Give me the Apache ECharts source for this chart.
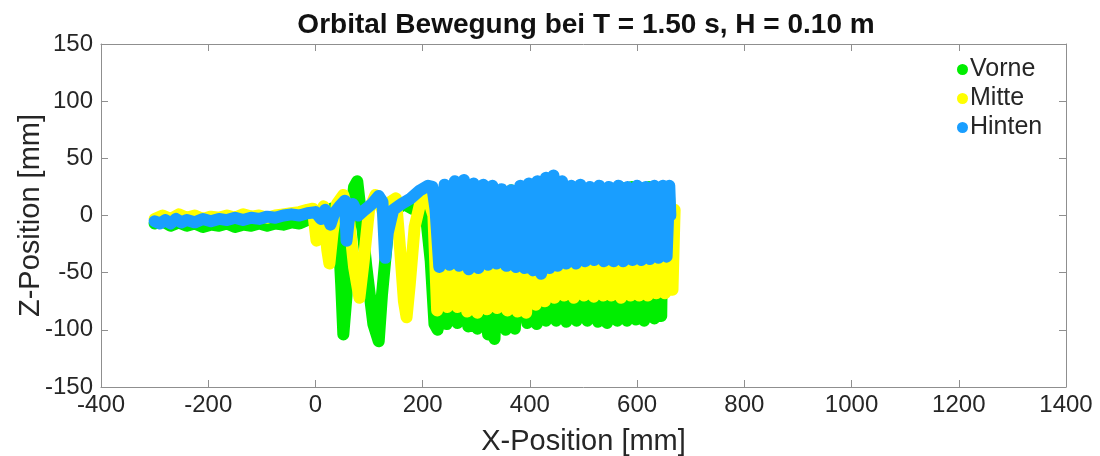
<!DOCTYPE html>
<html>
<head>
<meta charset="utf-8">
<script src="https://cdn.jsdelivr.net/npm/echarts@6/dist/echarts.min.js"></script>
<style>
  html, body { margin: 0; padding: 0; background: #fff; }
  #main { width: 1100px; height: 456px; }
</style>
</head>
<body>
<div id="main"></div>
<script>
// Bahnen [x mm, z mm]
var vorne = [
  [-300,-7],[-285,-5],[-270,-9],[-255,-6],[-240,-9],[-225,-7],[-210,-10],[-195,-8],[-180,-9],[-165,-7],
  [-150,-10],[-135,-8],[-120,-9],[-105,-7],[-90,-9],[-75,-7],[-60,-8],[-45,-6],[-30,-7],[-15,-4],
  [0,-2],[15,2],[30,6],[42,-5],[48,-60],[52,-104],[58,-70],[66,0],[72,25],[78,30],[84,5],[95,-45],
  [108,-95],[118,-110],[124,-70],[135,-15],[150,5],[165,10],[180,6],[195,10],[205,5],[215,-40],
  [222,-95],[228,-100],
  [238,20],[245,-95],[255,18],[265,-94],[275,15],[285,-97],[293,20],[302,-99],[312,22],[322,-104],
  [330,20],[334,-108],[345,18],[355,-100],[365,22],[372,-99],[382,20],[395,-94],[405,22],[413,-95],
  [421,24],[430,-92],[440,25],[449,-92],[460,24],[468,-93],[477,25],[487,-92],[497,24],[507,-92],
  [517,22],[527,-93],[537,20],[544,-94],[555,22],[563,-92],[572,24],[581,-92],[590,25],[598,-91],
  [606,24],[613,-92],[622,25],[632,-90],[640,24],[645,-88],[648,20]
];
var mitte = [
  [-300,-3],[-285,0],[-270,-3],[-255,1],[-240,-2],[-225,0],[-210,-3],[-195,-1],[-180,-2],[-165,0],
  [-150,-2],[-135,1],[-120,-1],[-105,0],[-90,-2],[-75,0],[-60,1],[-45,2],[-30,3],[-15,5],[-5,6],
  [2,-22],[8,-10],[15,8],[22,-30],[26,-42],[32,-15],[40,10],[52,18],[62,0],[72,-45],[82,-72],
  [90,-40],[100,5],[112,18],[122,10],[132,-10],[140,12],[150,15],[158,-30],[165,-75],[170,-89],
  [176,-60],[185,-10],[195,10],[210,15],[220,0],[227,-83],
  [237,15],[246,-80],[255,18],[265,-80],[274,16],[283,-84],[292,18],[302,-85],[311,20],[320,-82],
  [329,18],[339,-81],[348,20],[358,-83],[367,18],[377,-84],[385,20],[393,-85],[402,18],[411,-78],
  [420,20],[428,-75],[437,22],[446,-72],[455,20],[464,-70],[473,22],[482,-72],[491,20],[501,-70],
  [510,22],[519,-71],[528,20],[537,-70],[545,18],[552,-70],[561,20],[570,-72],[579,20],[588,-70],
  [596,22],[604,-70],[612,20],[620,-70],[628,22],[636,-68],[645,20],[652,-68],[660,15],[666,-65],
  [670,5]
];
var hinten = [
  [-300,-5],[-290,-7],[-280,-4],[-270,-7],[-260,-3],[-250,-6],[-240,-4],[-225,-6],[-210,-3],[-195,-5],
  [-180,-3],[-165,-4],[-150,-2],[-135,-4],[-120,-2],[-105,-3],[-90,-1],[-75,-2],[-60,0],[-45,1],
  [-30,0],[-15,2],[0,3],[10,-3],[18,5],[28,-8],[35,2],[45,8],[55,13],[58,-22],[62,-5],[70,10],
  [80,0],[92,5],[105,10],[118,17],[125,12],[130,-37],[135,-15],[145,5],[160,10],[178,15],[195,22],
  [210,26],[218,25],[224,5],[231,-45],
  [241,27],[250,-43],[260,30],[268,-44],[277,31],[286,-47],[295,28],[304,-46],[313,27],[322,-43],
  [330,26],[338,-42],[347,23],[356,-44],[365,22],[374,-45],[382,26],[390,-46],[398,28],[406,-48],
  [414,30],[421,-51],[430,33],[437,-46],[444,35],[452,-44],[460,30],[468,-42],[477,26],[486,-42],
  [494,27],[503,-40],[512,25],[520,-39],[529,26],[538,-40],[547,25],[556,-40],[565,26],[574,-40],
  [582,25],[591,-39],[600,26],[608,-39],[616,25],[624,-38],[632,26],[640,-37],[648,26],[655,-36],
  [660,26],[662,0]
];
var seriesNames = ['Vorne', 'Mitte', 'Hinten'];
var seriesColors = ['#00ee00', '#ffff00', '#199eff'];
var xTicks = { min: -400, max: 1400, interval: 200 };
var zTicks = { min: -150, max: 150, interval: 50 };

var font = '"Liberation Sans", Arial, sans-serif';
var boxColor = '#8f8f8f';
var textColor = '#262626';
var plain = function (v) { return String(v); };

function xAxisOf(pos, labels) {
    return {
        type: 'value', position: pos, min: xTicks.min, max: xTicks.max, interval: xTicks.interval,
        axisLine: { show: true, onZero: false, lineStyle: { color: boxColor, width: 1 } },
        axisTick: { show: true, inside: true, length: 7, lineStyle: { color: boxColor } },
        axisLabel: { show: labels, formatter: plain, fontFamily: font, fontSize: 24, color: textColor, margin: 6 },
        splitLine: { show: false },
        name: labels ? 'X-Position [mm]' : '', nameLocation: 'middle', nameGap: 40,
        nameTextStyle: { fontFamily: font, fontSize: 29, color: textColor }
    };
}
function yAxisOf(pos, labels) {
    return {
        type: 'value', position: pos, min: zTicks.min, max: zTicks.max, interval: zTicks.interval,
        axisLine: { show: true, onZero: false, lineStyle: { color: boxColor, width: 1 } },
        axisTick: { show: true, inside: true, length: 7, lineStyle: { color: boxColor } },
        axisLabel: { show: labels, formatter: plain, fontFamily: font, fontSize: 24, color: textColor, margin: 8 },
        splitLine: { show: false },
        name: labels ? 'Z-Position [mm]' : '', nameLocation: 'middle', nameGap: 56,
        nameMoveOverlap: false,
        nameTextStyle: { fontFamily: font, fontSize: 29, color: textColor }
    };
}

var myChart = echarts.init(document.getElementById('main'), null, { renderer: 'canvas' });
myChart.setOption({
    animation: false,
    backgroundColor: '#ffffff',
    title: {
        text: 'Orbital Bewegung bei T = 1.50 s, H = 0.10 m',
        left: 581, top: 6, textAlign: 'center',
        textStyle: { fontFamily: font, fontSize: 28, fontWeight: 'bold', color: '#111' }
    },
    legend: {
        data: seriesNames, orient: 'vertical', left: 957, top: 57,
        icon: 'circle', itemWidth: 11, itemHeight: 11, itemGap: 4, padding: 0,
        textStyle: { fontFamily: font, fontSize: 25, lineHeight: 25, color: textColor, padding: [0, 0, 0, -3] }
    },
    grid: { left: 101, right: 34, top: 44, bottom: 69, containLabel: false, outerBoundsMode: 'none' },
    xAxis: [xAxisOf('bottom', true), xAxisOf('top', false)],
    yAxis: [yAxisOf('left', true), yAxisOf('right', false)],
    series: [vorne, mitte, hinten].map(function (d, i) {
        return {
            name: seriesNames[i], type: 'line', data: d,
            xAxisIndex: 0, yAxisIndex: 0,
            showSymbol: false, symbol: 'circle',
            color: seriesColors[i],
            lineStyle: { width: 12, color: seriesColors[i], cap: 'round', join: 'round' }
        };
    })
});
</script>
</body>
</html>
